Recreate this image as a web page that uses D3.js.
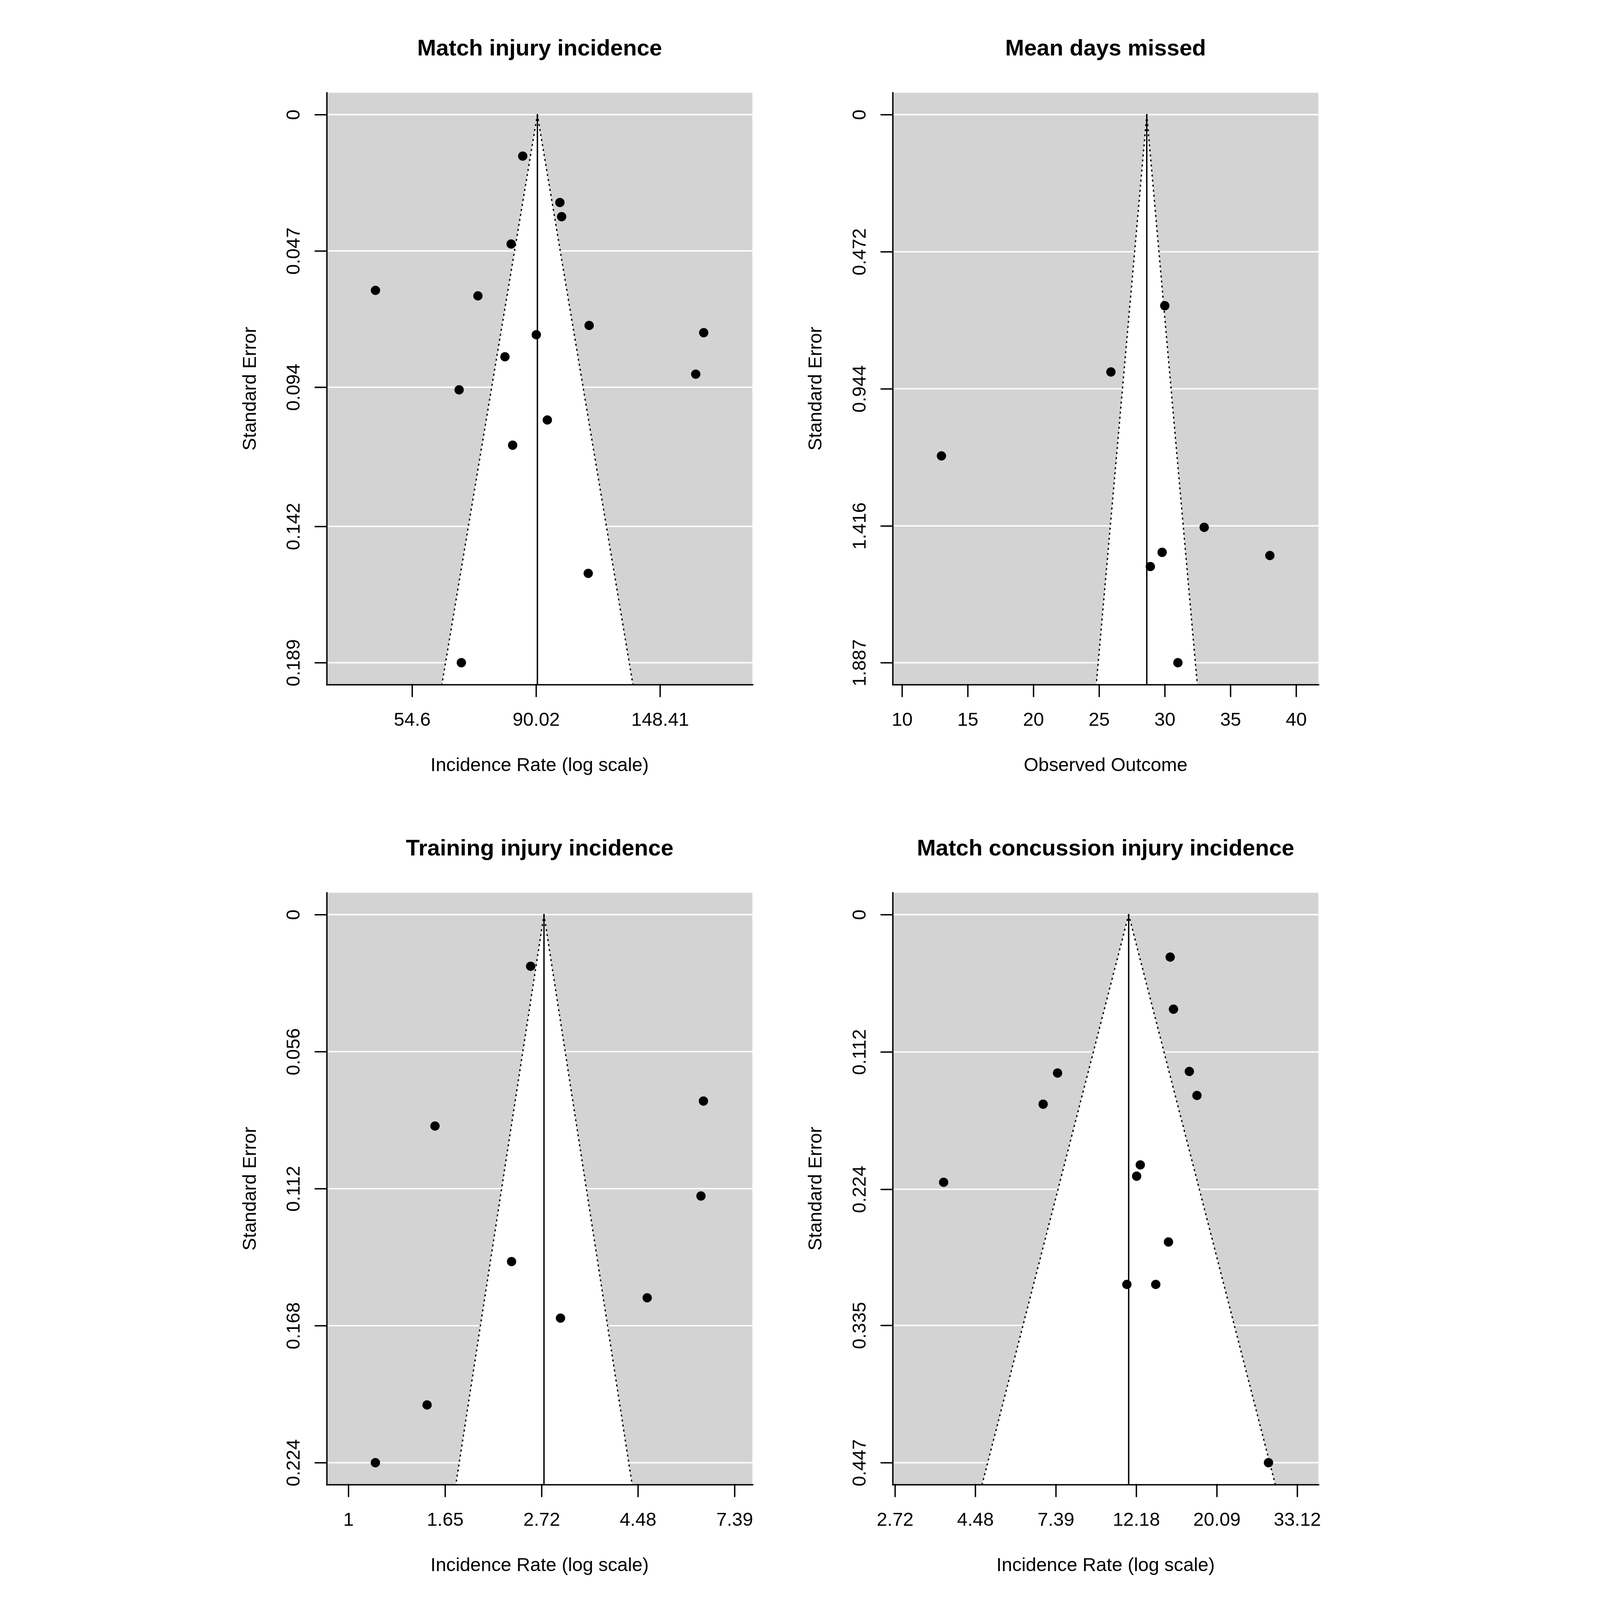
<!DOCTYPE html>
<html>
<head>
<meta charset="utf-8">
<script src="https://cdn.jsdelivr.net/npm/d3@7"></script>
<style>
html, body { margin: 0; padding: 0; background: #fff; overflow: hidden; }
svg { display: block; font-family: "Liberation Sans", Arial, sans-serif; }
</style>
</head>
<body>
<script>

//------------------------------------------------------------------------------
//
// Data
//
//------------------------------------------------------------------------------

var titles = ["Match injury incidence", "Mean days missed",
  "Training injury incidence", "Match concussion injury incidence"];
var xTitles = ["Incidence Rate (log scale)", "Observed Outcome",
  "Incidence Rate (log scale)", "Incidence Rate (log scale)"];

// Match injury incidence
var matchRate = [85.3, 99.1, 99.8, 81.4, 47.1, 71.2, 111.5, 177.0, 90.1, 79.4, 171.4, 66.0, 94.2, 81.9, 111.1, 66.6];
var matchSE = [0.0143, 0.0303, 0.0352, 0.0446, 0.0606, 0.0625, 0.0727, 0.0752, 0.0759, 0.0835, 0.0895, 0.0949, 0.1053, 0.1140, 0.1582, 0.1890];
var matchPooled = 90.5;
var matchXTicks = [54.6, 90.02, 148.41];
var matchXLimits = [38.7, 215.5];
var matchSETicks = ["0", "0.047", "0.094", "0.142", "0.189"];

// Mean days missed
var daysMissed = [30.0, 25.9, 13.0, 33.0, 29.8, 28.9, 38.0, 31.0];
var daysSE = [0.658, 0.886, 1.175, 1.421, 1.507, 1.556, 1.518, 1.887];
var daysPooled = 28.63;
var daysXTicks = [10, 15, 20, 25, 30, 35, 40];
var daysXLimits = [9.29, 41.7];
var daysSETicks = ["0", "0.472", "0.944", "1.416", "1.887"];

// Training injury incidence
var trainRate = [2.57, 6.29, 1.566, 6.21, 2.328, 4.70, 3.00, 1.503, 1.150];
var trainSE = [0.0211, 0.0762, 0.0864, 0.1150, 0.1418, 0.1566, 0.1649, 0.2004, 0.224];
var trainPooled = 2.754;
var trainXTicks = [1, 1.65, 2.72, 4.48, 7.39];
var trainXLimits = [0.894, 8.11];
var trainSETicks = ["0", "0.056", "0.112", "0.168", "0.224"];

// Match concussion injury incidence
var concRate = [15.04, 15.35, 7.47, 16.94, 17.76, 6.83, 12.49, 12.21, 3.68, 14.88, 11.49, 13.75, 27.7];
var concSE = [0.0346, 0.0771, 0.1292, 0.1279, 0.1475, 0.1546, 0.2041, 0.2133, 0.2183, 0.2670, 0.3016, 0.3016, 0.447];
var concPooled = 11.62;
var concXTicks = [2.72, 4.48, 7.39, 12.18, 20.09, 33.12];
var concXLimits = [2.682, 37.79];
var concSETicks = ["0", "0.112", "0.224", "0.335", "0.447"];

(function() {

var funnel = {

//------------------------------------------------------------------------------
//
// Properties
//
//------------------------------------------------------------------------------

width: 4135,

height: 5845,

// plot region inside one of the 2x2 figure cells
plot: {left: 338.7, top: 338.7, right: 1894, bottom: 2501},

fontSize: 69,

lwd: 5,

back: "#d3d3d3",

//------------------------------------------------------------------------------
//
// Public Methods
//
//------------------------------------------------------------------------------

initialize : function() {
  // the window may be smaller than the figure, so scale it to fit
  this.svg = d3.select("body").append("svg")
    .attr("viewBox", "0 0 " + this.width + " " + this.height)
    .attr("preserveAspectRatio", "xMidYMin meet")
    .style("width", "100vw")
    .style("height", "100vh");
  this.svg.append("rect")
    .attr("width", this.width)
    .attr("height", this.height)
    .attr("fill", "#fff");

  var panels = [
    {log: true, yi: matchRate, sei: matchSE, pooled: matchPooled, xticks: matchXTicks, xlim: matchXLimits, seTicks: matchSETicks},
    {log: false, yi: daysMissed, sei: daysSE, pooled: daysPooled, xticks: daysXTicks, xlim: daysXLimits, seTicks: daysSETicks},
    {log: true, yi: trainRate, sei: trainSE, pooled: trainPooled, xticks: trainXTicks, xlim: trainXLimits, seTicks: trainSETicks},
    {log: true, yi: concRate, sei: concSE, pooled: concPooled, xticks: concXTicks, xlim: concXLimits, seTicks: concSETicks}
  ];
  for(var i=0; i<panels.length; i++) {
    panels[i].title = titles[i];
    panels[i].xtitle = xTitles[i];
    this.drawPanel(panels[i], i);
  }
},

drawPanel : function(p, i) {
  var $this = this;
  var pl = this.plot;
  var g = this.svg.append("g")
    .attr("transform", "translate(" + ((i % 2) * this.width / 2) + "," + (Math.floor(i / 2) * this.height / 2) + ")");

  var seMax = +p.seTicks[p.seTicks.length - 1];
  var x = (p.log ? d3.scaleLog() : d3.scaleLinear())
    .domain(p.xlim)
    .range([pl.left, pl.right]);
  var y = d3.scaleLinear()
    .domain([-0.04 * seMax, 1.04 * seMax])
    .range([pl.top, pl.bottom]);

  var clipId = "clip" + i;
  g.append("clipPath").attr("id", clipId)
    .append("rect")
    .attr("x", pl.left).attr("y", pl.top)
    .attr("width", pl.right - pl.left).attr("height", pl.bottom - pl.top);
  var body = g.append("g").attr("clip-path", "url(#" + clipId + ")");

  // background + funnel region
  body.append("rect")
    .attr("x", pl.left).attr("y", pl.top)
    .attr("width", pl.right - pl.left).attr("height", pl.bottom - pl.top)
    .attr("fill", this.back);

  var seBot = y.domain()[1];
  var bound = function(se, sign) {
    return p.log ? p.pooled * Math.exp(sign * 1.96 * se) : p.pooled + sign * 1.96 * se;
  };
  var tri = [[bound(seBot, -1), seBot], [p.pooled, 0], [bound(seBot, 1), seBot]];
  body.append("polygon")
    .attr("points", tri.map(function(d) { return x(d[0]) + "," + y(d[1]); }).join(" "))
    .attr("fill", "#fff");

  // grid lines
  body.selectAll(".grid")
    .data(p.seTicks)
    .enter().append("line")
    .attr("x1", pl.left).attr("x2", pl.right)
    .attr("y1", function(d) { return y(+d); })
    .attr("y2", function(d) { return y(+d); })
    .attr("stroke", "#fff")
    .attr("stroke-width", this.lwd);

  // pseudo confidence limits
  [-1, 1].forEach(function(s) {
    body.append("line")
      .attr("x1", x(p.pooled)).attr("y1", y(0))
      .attr("x2", x(bound(seBot, s))).attr("y2", y(seBot))
      .attr("stroke", "#000")
      .attr("stroke-width", $this.lwd)
      .attr("stroke-dasharray", "3 15.5")
      .attr("stroke-linecap", "round");
  });

  body.append("line")
    .attr("x1", x(p.pooled)).attr("x2", x(p.pooled))
    .attr("y1", y(0)).attr("y2", pl.bottom)
    .attr("stroke", "#000")
    .attr("stroke-width", this.lwd);

  // studies
  body.selectAll(".study")
    .data(p.yi)
    .enter().append("circle")
    .attr("cx", function(d) { return x(d); })
    .attr("cy", function(d, k) { return y(p.sei[k]); })
    .attr("r", 17)
    .attr("fill", "#000");

  // axes
  var xAxis = g.append("g")
    .attr("transform", "translate(0," + pl.bottom + ")")
    .call(d3.axisBottom(x)
      .tickValues(p.xticks)
      .tickFormat(function(d) { return String(d); })
      .tickSize(43)
      .tickSizeOuter(0));
  var yAxis = g.append("g")
    .attr("transform", "translate(" + pl.left + ",0)")
    .call(d3.axisLeft(y)
      .tickValues(p.seTicks.map(Number))
      .tickFormat(function(d, k) { return p.seTicks[k]; })
      .tickSize(42)
      .tickSizeOuter(0));

  [xAxis, yAxis].forEach(function(a) {
    a.attr("font-family", null).attr("font-size", null);
    a.selectAll("path, line")
      .attr("stroke", "#000")
      .attr("stroke-width", $this.lwd)
      .attr("stroke-linecap", "square");
    a.selectAll("text")
      .attr("fill", "#000")
      .style("font-size", $this.fontSize + "px");
  });
  xAxis.selectAll("text")
    .attr("y", 150)
    .attr("dy", null);
  yAxis.selectAll("text")
    .attr("text-anchor", "middle")
    .attr("transform", "rotate(-90)")
    .attr("x", 0)
    .attr("y", 240 - pl.left)
    .attr("dy", null);

  // labels
  var cx = (pl.left + pl.right) / 2;
  g.append("text")
    .attr("x", cx).attr("y", 202)
    .attr("text-anchor", "middle")
    .style("font-size", Math.round(this.fontSize * 1.2) + "px")
    .style("font-weight", "bold")
    .text(p.title);
  g.append("text")
    .attr("x", cx).attr("y", pl.bottom + 316)
    .attr("text-anchor", "middle")
    .style("font-size", this.fontSize + "px")
    .text(p.xtitle);
  g.append("text")
    .attr("transform", "translate(79," + ((pl.top + pl.bottom) / 2) + ") rotate(-90)")
    .attr("text-anchor", "middle")
    .style("font-size", this.fontSize + "px")
    .text("Standard Error");
}

};

funnel.initialize();

})();
</script>
</body>
</html>
